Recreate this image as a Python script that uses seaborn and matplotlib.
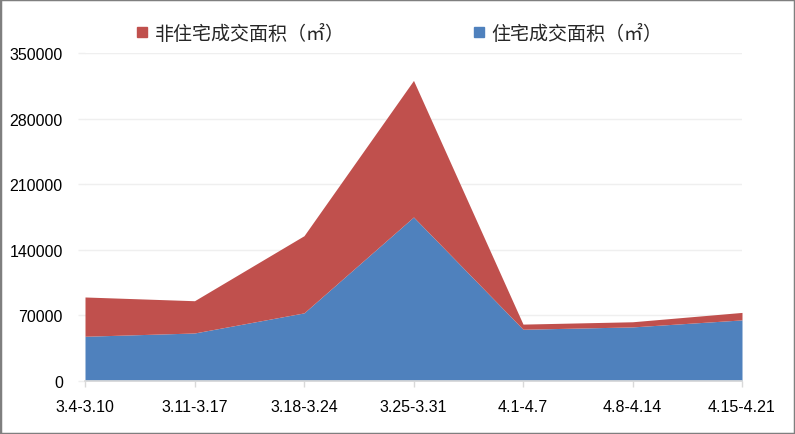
import matplotlib
matplotlib.use("Agg")
import matplotlib.pyplot as plt
import seaborn as sns
from matplotlib.lines import Line2D
from matplotlib.patches import Rectangle

# 周度成交面积（㎡）
weeks = ["3.4-3.10", "3.11-3.17", "3.18-3.24", "3.25-3.31", "4.1-4.7", "4.8-4.14", "4.15-4.21"]
residential = [47500, 51000, 72500, 175000, 55000, 57500, 65000]
non_residential = [42000, 34500, 82500, 146000, 5500, 5500, 8000]
y_ticks = [0, 70000, 140000, 210000, 280000, 350000]

BLUE = "#4F81BD"
RED = "#C0504D"
GRID = "#EFEFEF"

sns.set_theme(style="white")
plt.rcParams["font.family"] = ["Liberation Sans", "Noto Sans CJK SC", "DejaVu Sans"]

fig = plt.figure(figsize=(7.95, 4.35), dpi=100)
ax = fig.add_axes([85 / 795, 1 - 381.7 / 435, (742 - 85) / 795, (381.7 - 54.3) / 435])

x = list(range(len(weeks)))
ax.stackplot(x, residential, non_residential, colors=[BLUE, RED], linewidth=0, zorder=2)

ax.set_xlim(0, len(weeks) - 1)
ax.set_ylim(0, 350000)
ax.set_yticks(y_ticks)
ax.set_yticklabels([str(v) for v in y_ticks])
ax.set_xticks(x)
ax.set_xticklabels(weeks)
ax.grid(axis="y", color=GRID, linewidth=1, zorder=0)
ax.set_axisbelow(True)

for s in ["top", "right", "left"]:
    ax.spines[s].set_visible(False)
ax.spines["bottom"].set_color("#D9D9D9")
ax.spines["bottom"].set_zorder(3)

ax.tick_params(axis="x", length=4, width=1, color="#D9D9D9", pad=9,
               labelsize=11.5, labelcolor="#000000", bottom=True)
ax.tick_params(axis="y", length=5, width=1, color=GRID, pad=11,
               labelsize=11.5, labelcolor="#000000", left=True)

handles = [Line2D([], [], marker="s", linestyle="none", color=RED, markersize=7.5),
           Line2D([], [], marker="s", linestyle="none", color=BLUE, markersize=7.5)]
labels = ["非住宅成交面积（㎡）", "住宅成交面积（㎡）"]
fig.legend(handles, labels, loc="center", bbox_to_anchor=(399 / 795, 1 - 34 / 435),
           ncol=2, frameon=False, handlelength=0.7, handletextpad=0.3,
           columnspacing=6.7,
           prop={"family": ["Noto Sans CJK SC", "DejaVu Sans"], "size": 13.7})

fig.patches.append(Rectangle((0, 0), 1, 1, transform=fig.transFigure, fill=False,
                             edgecolor="#7F7F7F", linewidth=2.5))

fig.savefig("out.png", dpi=100)
